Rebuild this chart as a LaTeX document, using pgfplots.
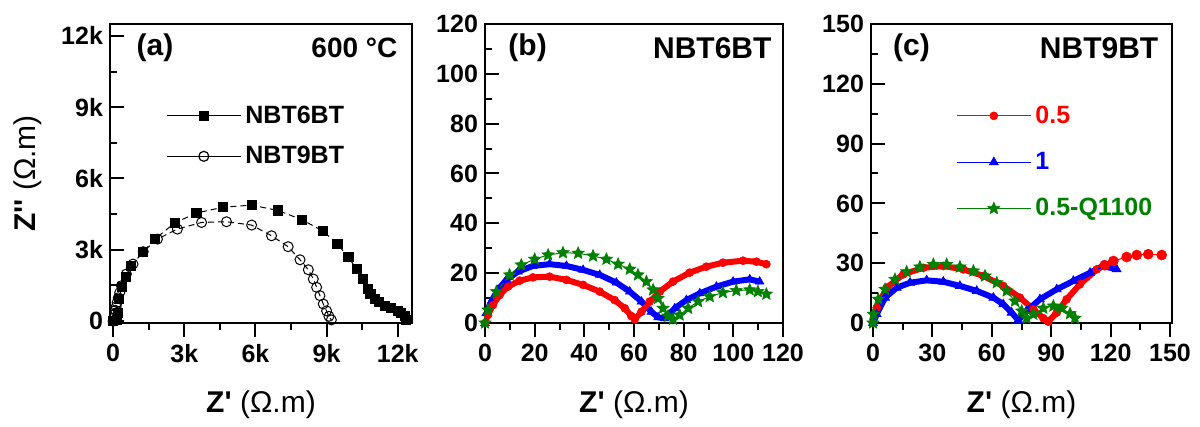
\documentclass[border=0pt]{standalone}
\usepackage{fontspec}
\setmainfont{Liberation Sans}[Ligatures=TeXOff]
\usepackage{pgfplots}
\pgfplotsset{compat=1.18}

\definecolor{ored}{RGB}{255,0,0}
\definecolor{oblue}{RGB}{0,0,255}
\definecolor{ogreen}{RGB}{0,128,0}

% filled five-point star
\pgfdeclareplotmark{fstar}{%
  \pgfpathmoveto{\pgfpointpolar{90}{\pgfplotmarksize}}%
  \pgfpathlineto{\pgfpointpolar{126}{0.45\pgfplotmarksize}}%
  \pgfpathlineto{\pgfpointpolar{162}{\pgfplotmarksize}}%
  \pgfpathlineto{\pgfpointpolar{198}{0.45\pgfplotmarksize}}%
  \pgfpathlineto{\pgfpointpolar{234}{\pgfplotmarksize}}%
  \pgfpathlineto{\pgfpointpolar{270}{0.45\pgfplotmarksize}}%
  \pgfpathlineto{\pgfpointpolar{306}{\pgfplotmarksize}}%
  \pgfpathlineto{\pgfpointpolar{342}{0.45\pgfplotmarksize}}%
  \pgfpathlineto{\pgfpointpolar{18}{\pgfplotmarksize}}%
  \pgfpathlineto{\pgfpointpolar{54}{0.45\pgfplotmarksize}}%
  \pgfpathclose\pgfusepathqfillstroke}

\pgfplotsset{
  panel/.style={
    scale only axis,
    height=149.5pt,
    axis line style={line width=1pt},
    xtick pos=bottom, ytick pos=left,
    xtick align=outside, ytick align=inside,
    major tick length=7pt, minor tick length=3.5pt,
    minor tick num=1,
    tick style={line width=1pt, black},
    ticklabel style={font=\fontsize{12.5}{14}\selectfont\bfseries},
    /pgf/number format/assume math mode=true,
    scaled ticks=false,
    every axis x label/.style={at={(axis description cs:0.5,-0.274)},anchor=center},
    every axis y label/.style={at={(axis description cs:-0.272,0.5)},rotate=90,anchor=center},
    label style={font=\fontsize{15}{17}\selectfont},
    xlabel={\textbf{Z'} (Ω.m)},
    legend style={draw=none, fill=none, anchor=north west,
      font=\fontsize{12.5}{14}\selectfont\bfseries},
    legend cell align=left,
    legend image code/.code={\draw[mark repeat=2,mark phase=2,#1,solid,line width=0.6pt]
      plot coordinates {(0pt,0pt) (18.5pt,0pt) (37pt,0pt)};},
  },
  band/.style={line width=3pt, mark options={line width=0.3pt}},
  thin/.style={line width=0.5pt, mark options={line width=0.3pt}},
}

\begin{document}
\begin{tikzpicture}
\path[use as bounding box] (0,0) rectangle (600pt,213.5pt);

% (a) 600 C
\begin{axis}[panel, at={(55pt,52pt)}, anchor=south west, width=151pt,
  xmin=-130, xmax=12600, ymin=-80, ymax=12500,
  xtick={0,3000,6000,9000,12000}, xticklabels={0,3k,6k,9k,12k},
  ytick={0,3000,6000,9000,12000}, yticklabels={0,3k,6k,9k,12k},
  ylabel={\textbf{Z''} (Ω.m)},
  legend style={at={(axis description cs:0.165,0.755)}, row sep=6pt},
]
\addplot[black, thin, densely dashed, mark=square*, mark size=2.3pt, mark options={solid}] coordinates {
  (0,0) (150,50) (200,350) (250,930) (370,1420) (560,1840) (770,2330)
  (1270,2920) (1760,3450) (2600,4130) (3520,4550) (4640,4790) (5840,4880)
  (6960,4650) (7950,4270) (8860,3780) (9460,3240) (9920,2680) (10270,2190)
  (10550,1770) (10760,1350) (10850,1150) (11040,930) (11200,800) (11460,650)
  (11700,550) (12000,430) (12150,330) (12300,220) (12350,50)};
\addlegendentry{NBT6BT}
\addplot[black, thin, densely dashed, mark=o, mark size=2.5pt, mark options={solid, fill=white}] coordinates {
  (0,0) (50,150) (80,300) (100,450) (130,600) (170,780) (220,980) (280,1200)
  (350,1490) (560,1980) (840,2400) (1270,2920) (1870,3450) (2710,3870)
  (3730,4150) (4780,4180) (5840,4040) (6680,3590) (7380,3130) (7880,2580)
  (8230,2160) (8440,1770) (8580,1420) (8720,1070) (8860,720) (9000,430)
  (9100,200) (9200,50)};
\addlegendentry{NBT9BT}
\node[anchor=west, font=\fontsize{15}{17}\selectfont\bfseries] at (axis description cs:0.065,0.92) {(a)};
\node[anchor=east, font=\fontsize{14}{16}\selectfont\bfseries] at (axis description cs:0.975,0.92) {600 °C};
\end{axis}

% (b) NBT6BT
\begin{axis}[panel, at={(242.5pt,52pt)}, anchor=south west, width=149pt,
  xmin=0, xmax=120, ymin=0, ymax=120,
  xtick={0,20,...,120}, ytick={0,20,...,120},
]
\addplot[oblue, band, mark=triangle*, mark size=2.5pt] coordinates {
  (0,0) (0.5,3.9) (2.5,8.6) (5.2,13.3) (8.6,17.3) (13.3,20.6) (19.3,22.9)
  (26,23.6) (32.8,22.9) (39.5,21.3) (46.2,19.3) (52.9,16.2) (58.3,12.6)
  (63,8.6) (67,4.5) (69.7,2.3) (72.4,1.9) (76.4,5.9) (81.1,9.2) (86.5,11.9)
  (93.2,14.6) (99.9,16.6) (106.6,17.5) (110.6,16.6)};
\addplot[ored, band, mark=*, mark size=2pt] coordinates {
  (0,0) (1.2,3.2) (3.2,7.2) (5.9,11.2) (9.3,14.6) (14,17) (19.3,18.3)
  (26,18.6) (32.8,17.3) (39.5,15.3) (46.2,12.6) (52.2,9.2) (56.3,5.9)
  (58.9,2.8) (60.3,1.5) (63,4.5) (66.3,8.6) (70.4,12.6) (75.7,16.6)
  (82.4,20.2) (89.1,22.6) (95.8,24.2) (103.9,25) (109.3,24.6) (113.3,23.6)};
\addplot[ogreen, thin, mark=fstar, mark size=3.2pt] coordinates {
  (0,0) (1.2,5.2) (4.6,12.6) (9.9,19.3) (14.6,23.3) (20,25.6) (25.4,27.3)
  (31.4,28.2) (37.5,28) (43.5,26.9) (48.9,25.6) (53.6,23.6) (58.3,21.6)
  (61.6,19.3) (65,16.6) (67.7,13.3) (69.7,9.9) (71.7,5.9) (73.7,2.8)
  (75.7,1.5) (78.4,3.2) (81.8,5.9) (85.8,8.6) (90.5,10.6) (95.8,12.2)
  (101.2,13) (106.6,13.3) (109.9,12.6) (113.3,11.6)};
\node[anchor=west, font=\fontsize{15}{17}\selectfont\bfseries] at (axis description cs:0.055,0.92) {(b)};
\node[anchor=east, font=\fontsize{15}{17}\selectfont\bfseries] at (axis description cs:0.985,0.92) {NBT6BT};
\end{axis}

% (c) NBT9BT
\begin{axis}[panel, at={(435.5pt,52pt)}, anchor=south west, width=150.5pt,
  xmin=-1, xmax=151, ymin=0, ymax=150,
  xtick={0,30,...,150}, ytick={0,30,...,150},
  legend style={at={(axis description cs:0.262,0.755)}, row sep=9pt},
]
\addplot[ored, band, mark=*, mark size=2pt] coordinates {
  (0,0) (1.9,7.7) (6.9,17.7) (15.3,24.4) (25.4,27.7) (35.5,28.6) (45.6,26.9)
  (55.7,23.6) (65.8,18.6) (74.2,12.7) (81,6.9) (86,2.4) (88.5,0.7)
  (92.8,5.2) (97.8,11.9) (104.5,19.4) (113,26.9) (117,29)};
\addlegendentry{\textcolor{ored}{0.5}}
\addplot[oblue, band, mark=triangle*, mark size=2.6pt] coordinates {
  (0,0) (1.9,4.4) (6.1,12.7) (12,17.7) (18.7,20.2) (27.1,21.4) (35.5,20.7)
  (43.9,18.6) (52.4,16.1) (60.8,12.7) (65.8,9.4) (70,5.2) (73.4,1.4)
  (77.6,6) (84.3,11.9) (92.8,16.9) (101.2,21.1) (109.6,25.2) (116,28.5) (123,27)};
\addlegendentry{\textcolor{oblue}{1}}
\addplot[ogreen, thin, mark=fstar, mark size=3.2pt] coordinates {
  (0,0) (0.2,4.4) (2.7,11.9) (6.1,16.9) (11.1,21.9) (17,25.7) (23.7,28.1)
  (30.5,29.4) (37.2,29.4) (43.9,28.1) (50.7,26.1) (56.6,23.6) (62.5,20.2)
  (67.5,16.1) (71.7,11) (75.1,6) (77.6,2.4) (81,4.4) (86,7.4) (91.1,8.5)
  (95.3,7.4) (99.5,4.7) (102,2.4)};
\addlegendentry{\textcolor{ogreen}{0.5-Q1100}}
\addplot[ored, thin, mark=*, mark size=2.5pt, forget plot] coordinates {
  (117,29) (121.4,31.1) (128.1,33.1) (133.2,34.1) (139,34.5) (145.8,34.1)};
\node[anchor=west, font=\fontsize{15}{17}\selectfont\bfseries] at (axis description cs:0.05,0.92) {(c)};
\node[anchor=east, font=\fontsize{15}{17}\selectfont\bfseries] at (axis description cs:0.978,0.92) {NBT9BT};
\end{axis}
\end{tikzpicture}
\end{document}
